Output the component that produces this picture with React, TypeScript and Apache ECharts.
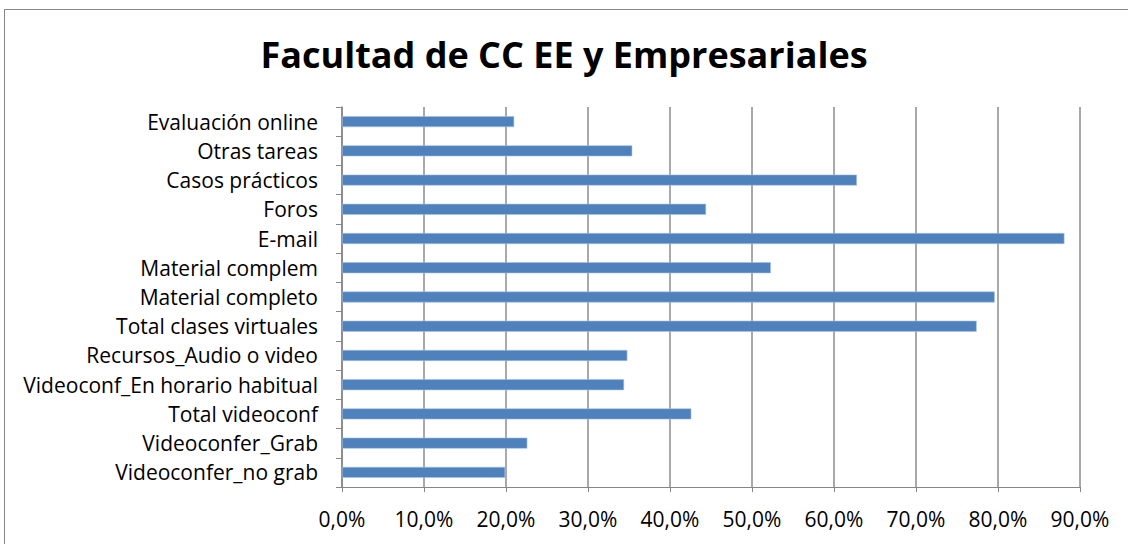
import React, { useEffect, useRef } from "react";
import * as echarts from "echarts";

const categories = [
  "Evaluación online",
  "Otras tareas",
  "Casos prácticos",
  "Foros",
  "E-mail",
  "Material complem",
  "Material completo",
  "Total clases virtuales",
  "Recursos_Audio o video",
  "Videoconf_En horario habitual",
  "Total videoconf",
  "Videoconfer_Grab",
  "Videoconfer_no grab",
];

const values = [21.0, 35.4, 62.8, 44.4, 88.1, 52.3, 79.6, 77.4, 34.8, 34.4, 42.6, 22.6, 19.9];

const xTicks = { min: 0, max: 90, interval: 10 };

const title = "Facultad de CC EE y Empresariales";

const FONT = "'Open Sans', 'Noto Sans', sans-serif";

export default function App() {
  const ref = useRef<HTMLDivElement>(null);
  useEffect(() => {
    if (!ref.current) return;
    const chart = echarts.init(ref.current, null, { renderer: "svg" });
    chart.setOption({
      animation: false,
      backgroundColor: "#ffffff",
      title: {
        text: title,
        left: "center",
        top: 31,
        textStyle: { fontFamily: FONT, fontSize: 36, fontWeight: "bold", color: "#000" },
      },
      graphic: [
        {
          type: "rect",
          shape: { x: 4.5, y: 9.5, width: 1140, height: 545 },
          style: { fill: "none", stroke: "#868686", lineWidth: 1 },
          silent: true,
        },
      ],
      grid: { left: 342, right: 48, top: 107, bottom: 57, containLabel: false },
      xAxis: {
        type: "value",
        min: xTicks.min,
        max: xTicks.max,
        interval: xTicks.interval,
        axisLine: { show: true, lineStyle: { color: "#868686", width: 1 } },
        axisTick: { show: true, length: 5, lineStyle: { color: "#868686" } },
        splitLine: { show: true, lineStyle: { color: "#8c8c8c", width: 1.5 } },
        axisLabel: {
          fontFamily: FONT,
          fontSize: 21,
          color: "#000",
          margin: 21,
          formatter: (v: number) => v.toFixed(1).replace(".", ",") + "%",
        },
      },
      yAxis: {
        type: "category",
        data: categories,
        inverse: true,
        axisLine: { show: true, lineStyle: { color: "#868686", width: 1.5 } },
        axisTick: { show: true, length: 6, inside: false, lineStyle: { color: "#868686" } },
        axisLabel: { fontFamily: FONT, fontSize: 21, color: "#000", margin: 24 },
      },
      series: [
        {
          type: "bar",
          data: values,
          barWidth: 11,
          itemStyle: { color: "#4F81BD", borderColor: "#a9c1e0", borderWidth: 0.6 },
        },
      ],
    });
    return () => chart.dispose();
  }, []);
  return (
    <div
      ref={ref}
      style={{ position: "absolute", left: 0, top: 0, width: 1128, height: 544 }}
    />
  );
}
